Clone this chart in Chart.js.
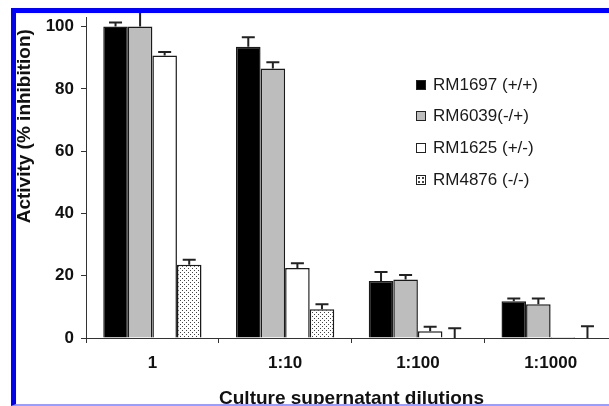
<!DOCTYPE html>
<html>
<head>
<meta charset="utf-8">
<script src="https://cdn.jsdelivr.net/npm/chart.js@4.4.1/dist/chart.umd.min.js"></script>
<style>
    body { margin: 0; background: #fff; width: 609px; height: 406px; overflow: hidden; position: relative; font-family: "Liberation Sans", Arial, sans-serif; }
    #scoreChart { position: absolute; left: 0; top: 0; }
    .frame { position: absolute; left: 11px; top: 8px; width: 620px; height: 391px; border-top: 5px solid #0000ff; border-left: 5px solid #0000ff; border-bottom: 2px solid #9c9cff; pointer-events: none; }
    #legend { position: absolute; left: 416px; top: 69px; }
    .item { height: 31.6px; display: flex; align-items: center; font-size: 17px; color: #1a1a1a; }
    .swatch { width: 8px; height: 8px; border: 1.5px solid #222; margin-right: 7px; }
</style>
</head>
<body>
<canvas id="scoreChart" width="617" height="420"></canvas>
<div class="frame"></div>
<div id="legend"></div>
<script>
const categories = ['1', '1:10', '1:100', '1:1000'];
const seriesNames = ['RM1697 (+/+)', 'RM6039(-/+)', 'RM1625 (+/-)', 'RM4876 (-/-)'];
const rm1697 = [100, 93.5, 18.3, 11.8];
const rm6039 = [100, 86.5, 18.8, 10.8];
const rm1625 = [90.7, 22.5, 2.2, 0.3];
const rm4876 = [23.5, 9.2, 0, 0];
const rm1697Err = [1.3, 3.1, 2.9, 0.9];
const rm6039Err = [5.5, 2.0, 1.4, 1.9];
const rm1625Err = [1.1, 1.5, 1.4, 0];
const rm4876Err = [1.6, 1.6, 3.1, 3.8];
const yTicks = [0, 20, 40, 60, 80, 100];

// dotted fill for the last series
const pat = document.createElement('canvas');
pat.width = 4; pat.height = 4;
const pctx = pat.getContext('2d');
pctx.fillStyle = '#fff';
pctx.fillRect(0, 0, 4, 4);
pctx.fillStyle = '#444';
pctx.fillRect(0, 0, 1, 1);
pctx.fillRect(2, 2, 1, 1);
const ctx = document.getElementById('scoreChart').getContext('2d');
const dotted = ctx.createPattern(pat, 'repeat');

const fills = ['#000000', '#bdbdbd', '#ffffff', dotted];
const swatchBg = ['#000', '#bdbdbd', '#fff', 'radial-gradient(#444 30%, transparent 35%) 0 0/4px 4px, #fff'];
const values = [rm1697, rm6039, rm1625, rm4876];
const errors = [rm1697Err, rm6039Err, rm1625Err, rm4876Err];

const legend = document.getElementById('legend');
seriesNames.forEach((name, i) => {
    const row = document.createElement('div');
    row.className = 'item';
    row.innerHTML = `<span class="swatch" style="background:${swatchBg[i]}"></span>${name}`;
    legend.appendChild(row);
});

const errorBars = {
    id: 'errorBars',
    afterDatasetsDraw(chart) {
        const y = chart.scales.y;
        const c = chart.ctx;
        c.save();
        c.strokeStyle = '#222';
        c.lineWidth = 2;
        errors.forEach((errs, i) => {
            chart.getDatasetMeta(i).data.forEach((bar, j) => {
                if (!errs[j]) return;
                const top = y.getPixelForValue(values[i][j] + errs[j]);
                c.beginPath();
                c.moveTo(bar.x, bar.y);
                c.lineTo(bar.x, top);
                c.moveTo(bar.x - 6.5, top);
                c.lineTo(bar.x + 6.5, top);
                c.stroke();
            });
        });
        c.restore();
    },
    afterDraw(chart) {
        // y axis title, placed high like the original
        const c = chart.ctx;
        c.save();
        c.translate(25, chart.scales.y.getPixelForValue(68));
        c.rotate(-Math.PI / 2);
        c.font = 'bold 19px "Liberation Sans", Arial, sans-serif';
        c.fillStyle = '#111';
        c.textAlign = 'center';
        c.textBaseline = 'middle';
        c.fillText('Activity (% inhibition)', 0, 0);
        c.restore();
    }
};

new Chart(ctx, {
    type: 'bar',
    data: {
        labels: categories,
        datasets: seriesNames.map((name, i) => ({
            label: name,
            data: values[i],
            backgroundColor: fills[i],
            borderColor: '#1a1a1a',
            borderWidth: 1.5,
            borderSkipped: 'bottom',
            categoryPercentage: 0.74,
            barPercentage: 1.0
        }))
    },
    options: {
        responsive: false,
        animation: false,
        layout: { padding: { left: 12, top: 12, right: 0, bottom: 10 } },
        plugins: {
            legend: { display: false },
            tooltip: { enabled: false }
        },
        scales: {
            y: {
                min: 0,
                max: 103,
                afterFit: function(scale) { scale.width = 74; },
                afterBuildTicks: function(scale) { scale.ticks = yTicks.map(v => ({ value: v })); },
                border: { color: '#333', width: 1 },
                grid: { drawOnChartArea: false, tickLength: 5, color: '#333' },
                ticks: {
                    padding: 7,
                    color: '#111',
                    font: { family: '"Liberation Sans", Arial', size: 17, weight: 'bold' }
                }
            },
            x: {
                afterFit: function(scale) { scale.height = 72; },
                border: { color: '#333', width: 1 },
                grid: { drawOnChartArea: false, tickLength: 5, color: '#333', offset: true },
                ticks: {
                    padding: 10,
                    color: '#111',
                    font: { family: '"Liberation Sans", Arial', size: 17, weight: 'bold' }
                },
                title: {
                    display: true,
                    text: 'Culture supernatant dilutions',
                    color: '#111',
                    padding: 0,
                    font: { family: '"Liberation Sans", Arial', size: 19, weight: 'bold' }
                }
            }
        }
    },
    plugins: [errorBars]
});
</script>
</body>
</html>
